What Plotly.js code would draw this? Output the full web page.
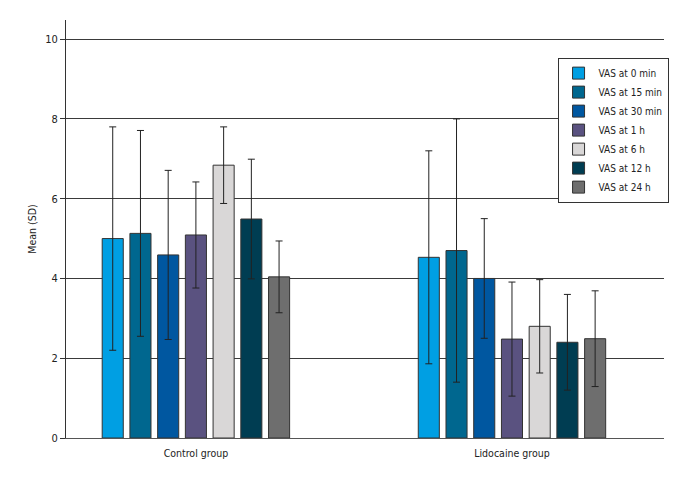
<!DOCTYPE html>
<html>
<head>
<meta charset="utf-8">
<script src="https://cdn.plot.ly/plotly-3.0.1.min.js"></script>
<style>html,body{margin:0;padding:0;background:#fff;}#chart{width:696px;height:480px;}</style>
</head>
<body>
<div id="chart"></div>
<script>
const categories = ["Control group", "Lidocaine group"];
const seriesNames = ["VAS at 0 min", "VAS at 15 min", "VAS at 30 min", "VAS at 1 h", "VAS at 6 h", "VAS at 12 h", "VAS at 24 h"];
const vas0min  = [5.0, 4.53];
const vas15min = [5.13, 4.70];
const vas30min = [4.59, 4.0];
const vas1h    = [5.09, 2.48];
const vas6h    = [6.84, 2.80];
const vas12h   = [5.49, 2.40];
const vas24h   = [4.04, 2.49];
const sd0min  = [2.8, 2.67];
const sd15min = [2.58, 3.3];
const sd30min = [2.12, 1.5];
const sd1h    = [1.33, 1.43];
const sd6h    = [0.96, 1.17];
const sd12h   = [1.5, 1.2];
const sd24h   = [0.9, 1.2];
const colors = ["#009fe3", "#00678f", "#0057a0", "#5a5280", "#d9d7d7", "#003d52", "#6e6e6e"];

const means = [vas0min, vas15min, vas30min, vas1h, vas6h, vas12h, vas24h];
const sds = [sd0min, sd15min, sd30min, sd1h, sd6h, sd12h, sd24h];

const font = "'DejaVu Sans Condensed', 'Liberation Sans Narrow', sans-serif";

const traces = seriesNames.map((name, i) => ({
  type: "bar",
  name: name,
  x: categories,
  y: means[i],
  marker: {color: colors[i], line: {color: "#333333", width: 1}},
  error_y: {type: "data", array: sds[i], visible: true, color: "#222222", thickness: 1, width: 3.5}
}));

const layout = {
  width: 696, height: 480,
  margin: {l: 66, r: 32, t: 20, b: 42},
  paper_bgcolor: "#ffffff",
  plot_bgcolor: "#ffffff",
  font: {family: font, size: 10, color: "#222222"},
  barmode: "group",
  bargap: 0.386,
  bargroupgap: 0.24,
  showlegend: true,
  legend: {
    x: 0.822, y: 0.91, xanchor: "left", yanchor: "top",
    bgcolor: "#ffffff", bordercolor: "#333333", borderwidth: 1,
    font: {family: font, size: 10, color: "#222222"},
    tracegroupgap: 0, itemwidth: 30
  },
  xaxis: {
    type: "category",
    range: [-0.411, 1.481],
    showline: true, linecolor: "#555555", linewidth: 1,
    ticks: "outside", ticklen: 5, tickcolor: "rgba(0,0,0,0)",
    showgrid: false,
    tickfont: {family: font, size: 10.5, color: "#222222"}
  },
  yaxis: {
    range: [0, 10.48],
    tickvals: [0, 2, 4, 6, 8, 10],
    ticktext: ["0", "2", "4", "6", "8", "10"],
    showline: true, linecolor: "#333333", linewidth: 1,
    ticks: "outside", ticklen: 5, tickcolor: "#333333",
    showgrid: true, gridcolor: "#3a3a3a", gridwidth: 1,
    zeroline: false,
    tickfont: {family: font, size: 11, color: "#222222"},
    title: {text: "Mean (SD)", font: {family: font, size: 10.5, color: "#222222"}, standoff: 6}
  }
};

Plotly.newPlot("chart", traces, layout, {displayModeBar: false, staticPlot: true});
</script>
</body>
</html>
